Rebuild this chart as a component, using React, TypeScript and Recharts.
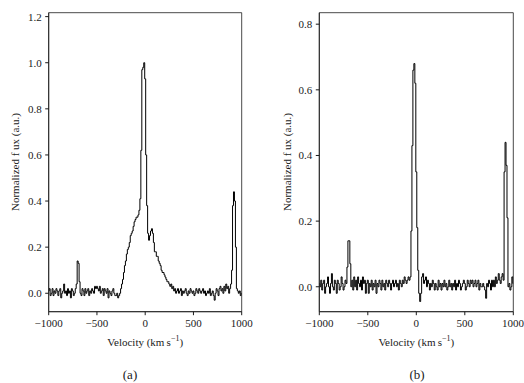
import React from 'react';
import { LineChart, Line, XAxis, YAxis, ReferenceArea } from 'recharts';

// channel velocities, km/s (10 km/s channels)
const velocity = Array.from({ length: 201 }, (_, i) => -1000 + i * 10);

const fluxA = [
  0.01, 0.02, -0.01, 0.0, 0.02, -0.01, 0.01, 0.0, 0.02, 0.01,
  -0.01, 0.01, 0.02, -0.02, 0.0, 0.01, 0.04, 0.0, 0.01, -0.01,
  0.02, 0.0, 0.01, -0.02, 0.02, 0.01, -0.01, 0.0, 0.02, 0.04,
  0.14, 0.13, 0.05, 0.0, -0.01, 0.02, 0.01, -0.01, 0.02, 0.0,
  0.01, 0.02, -0.01, 0.01, 0.0, 0.02, 0.01, 0.0, 0.03, 0.02,
  0.03, 0.02, 0.01, 0.03, 0.0, 0.01, 0.02, -0.01, 0.02, 0.01,
  0.0, 0.02, -0.02, 0.01, 0.0, -0.01, 0.01, 0.02, 0.0, -0.01,
  -0.01, 0.0, -0.02, -0.01, 0.0, 0.02, 0.04, 0.06, 0.09, 0.12,
  0.14, 0.17, 0.19, 0.2, 0.22, 0.25, 0.26, 0.27, 0.29, 0.31,
  0.32, 0.33, 0.33, 0.34, 0.36, 0.41, 0.62, 0.97, 0.98, 1.0,
  0.93, 0.6, 0.38, 0.26, 0.23, 0.25, 0.27, 0.28, 0.26, 0.22,
  0.18, 0.18, 0.16, 0.16, 0.14, 0.13, 0.12, 0.1, 0.09, 0.09,
  0.08, 0.07, 0.06, 0.05, 0.05, 0.04, 0.03, 0.04, 0.02, 0.03,
  0.01, 0.02, 0.0, 0.01, 0.02, 0.0, 0.01, 0.02, -0.01, 0.01,
  0.0, 0.01, 0.02, 0.0, -0.01, 0.01, 0.0, 0.02, 0.01, 0.0,
  0.01, -0.01, 0.0, 0.02, 0.01, 0.0, 0.02, 0.01, 0.0, 0.01,
  0.02, 0.0, 0.01, -0.01, 0.0, 0.01, 0.0, 0.02, -0.01, 0.0,
  0.01, -0.01, -0.03, 0.0, 0.02, 0.01, -0.01, 0.02, 0.03, 0.01,
  0.02, 0.0, 0.03, 0.01, 0.04, 0.02, 0.03, 0.0, 0.02, 0.04,
  0.1, 0.38, 0.44, 0.4, 0.2, 0.02, 0.01, 0.0, 0.01, -0.01,
  0.0,
];

const fluxB = [
  0.01, 0.0, 0.02, -0.01, 0.01, 0.02, -0.02, 0.0, 0.01, 0.03,
  0.0, -0.02, 0.01, 0.04, 0.0, -0.01, 0.02, 0.01, -0.02, 0.02,
  0.01, -0.01, 0.0, 0.03, 0.01, -0.01, 0.0, 0.02, 0.01, 0.06,
  0.14, 0.14, 0.07, 0.0, 0.02, -0.01, 0.03, 0.0, 0.02, -0.01,
  0.03, 0.01, 0.0, 0.02, -0.01, 0.03, 0.01, 0.02, -0.02, 0.01,
  0.02, -0.02, 0.01, 0.0, 0.02, -0.01, 0.01, 0.0, 0.02, -0.02,
  0.01, 0.0, 0.02, 0.01, -0.01, 0.02, 0.0, 0.01, -0.01, 0.02,
  0.01, 0.0, 0.02, 0.01, -0.01, 0.01, 0.02, 0.0, 0.01, 0.02,
  0.0, 0.01, -0.01, 0.02, 0.01, 0.0, 0.02, 0.01, 0.03, 0.02,
  0.01, 0.02, 0.03, 0.02, 0.03, 0.17, 0.43, 0.66, 0.68, 0.62,
  0.35, 0.18, 0.05, -0.02, -0.045, -0.02, 0.03, 0.04, 0.01, 0.02,
  0.03, 0.0, 0.02, 0.01, -0.01, 0.01, 0.0, 0.02, 0.01, -0.01,
  0.01, 0.0, -0.01, 0.02, 0.0, 0.01, -0.01, 0.01, 0.0, 0.02,
  0.0, 0.01, -0.01, 0.0, 0.02, 0.0, 0.01, -0.01, 0.01, 0.0,
  0.02, -0.01, 0.01, 0.0, 0.02, 0.01, -0.01, 0.0, 0.01, 0.02,
  0.01, -0.01, 0.0, 0.02, 0.01, 0.0, 0.02, 0.01, 0.02, 0.0,
  0.01, 0.02, 0.0, 0.01, 0.02, -0.01, 0.01, 0.0, 0.0, 0.01,
  0.0, -0.01, -0.035, 0.01, 0.0, 0.02, 0.01, -0.01, 0.02, 0.0,
  0.02, 0.0, 0.03, 0.01, 0.02, 0.04, 0.02, 0.01, 0.03, 0.04,
  0.02, 0.35, 0.44, 0.37, 0.21, 0.0, 0.01, -0.01, 0.0, 0.03,
  0.01,
];

const xTicks = [-1000, -500, 0, 500, 1000];
const yTicksA = [0, 0.2, 0.4, 0.6, 0.8, 1.0, 1.2];
const yTicksB = [0, 0.2, 0.4, 0.6, 0.8];

const FONT = '"Liberation Serif", "DejaVu Serif", serif';
const INK = '#1a1a1a';
const tickStyle = { fontSize: 11, fontFamily: FONT, fill: INK };
const minus = (v: number) => (v < 0 ? '\u2212' + Math.abs(v) : String(v));

type PanelProps = {
  flux: number[];
  yDomain: [number, number];
  yTicks: number[];
  left: number;
  width: number;
  plotLeft: number;
  plotRight: number;
  caption: string;
  captionX: number;
  ylabelX: number;
};

function Panel({ flux, yDomain, yTicks, left, width, plotLeft, plotRight, caption, captionX, ylabelX }: PanelProps) {
  const data = velocity.map((v, i) => ({ v, f: flux[i] }));
  const top = 12.7;
  const bottom = 311.7;
  const mid = (plotLeft + plotRight) / 2;
  return (
    <>
      <div style={{ position: 'absolute', left, top: 0 }}>
        <LineChart width={width} height={383} data={data}
          margin={{ top, left: 0, right: width - (plotRight - left), bottom: 383 - bottom - 30 }}>
          <XAxis dataKey="v" type="number" domain={[-1000, 1000]} ticks={xTicks} height={30}
            allowDataOverflow tickSize={3.5} tickMargin={4} tickFormatter={minus}
            stroke={INK} tick={tickStyle} axisLine={{ stroke: INK, strokeWidth: 0.8 }} />
          <YAxis type="number" domain={yDomain} ticks={yTicks} width={plotLeft - left}
            allowDataOverflow tickSize={3.5} tickMargin={3.5} tickFormatter={(v: number) => v.toFixed(1)}
            stroke={INK} tick={tickStyle} axisLine={{ stroke: INK, strokeWidth: 0.8 }} />
          <ReferenceArea x1={-1000} x2={1000} y1={yDomain[0]} y2={yDomain[1]}
            fill="none" stroke={INK} strokeWidth={0.8} ifOverflow="extendDomain" />
          <Line type="step" dataKey="f" stroke="#000" strokeWidth={1} dot={false} isAnimationActive={false} />
        </LineChart>
      </div>
      <div style={{ position: 'absolute', left: ylabelX, top: (top + bottom) / 2, transform: 'translate(-50%, -50%) rotate(-90deg)',
        whiteSpace: 'nowrap', fontFamily: FONT, fontSize: 11, color: INK }}>
        Normalized f ux (a.u.)
      </div>
      <div style={{ position: 'absolute', left: mid, top: 341, transform: 'translate(-50%, -50%)',
        whiteSpace: 'nowrap', fontFamily: FONT, fontSize: 11, color: INK }}>
        Velocity (km&#8201;s<sup style={{ fontSize: 8 }}>{'\u22121'}</sup>)
      </div>
      <div style={{ position: 'absolute', left: captionX, top: 375, transform: 'translate(-50%, -50%)',
        whiteSpace: 'nowrap', fontFamily: FONT, fontSize: 13, color: INK }}>
        {caption}
      </div>
    </>
  );
}

export default function App() {
  return (
    <div style={{ position: 'absolute', left: 0, top: 0, width: 524, height: 383, background: '#fff' }}>
      <Panel flux={fluxA} yDomain={[-0.08, 1.217]} yTicks={yTicksA} left={0} width={260}
        plotLeft={48.7} plotRight={241.7} caption="(a)" captionX={130} ylabelX={15} />
      <Panel flux={fluxB} yDomain={[-0.076, 0.835]} yTicks={yTicksB} left={260} width={264}
        plotLeft={319.3} plotRight={513.3} caption="(b)" captionX={417} ylabelX={287} />
    </div>
  );
}
